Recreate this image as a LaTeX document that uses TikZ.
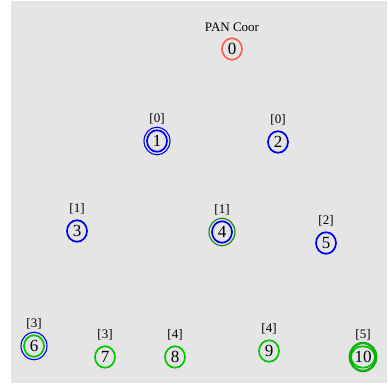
\documentclass[tikz,border=0pt]{standalone}
\usepackage{fontspec}
\setmainfont{Liberation Serif}
\usetikzlibrary{shapes.geometric}
\definecolor{coordred}{RGB}{250,100,80}
\definecolor{devblue}{RGB}{0,0,240}
\definecolor{devgreen}{RGB}{0,200,0}
\definecolor{darkgreen}{RGB}{20,130,20}
\definecolor{bggray}{RGB}{229,229,229}
\begin{document}
\begin{tikzpicture}[
      x=1pt, y=-1pt,
      dev/.style={ellipse, draw, line width=1.7pt, minimum width=20pt,
        minimum height=21.5pt, inner sep=0pt, font=\fontsize{17}{17}\selectfont},
      lvl/.style={inner sep=0pt, font=\fontsize{13}{13}\selectfont},
      ring/.style={line width=1.1pt},
    ]
    \useasboundingbox (0,0) rectangle (387,387);
    \fill[bggray] (11,1) rectangle (387,383);

    % devices: name/x/y/colour/level
    \foreach \i/\x/\y/\col/\lev in {0/232/49/coordred/{PAN Coor}, 1/157/141/devblue/{[0]},
        2/278/142/devblue/{[0]}, 3/77/231/devblue/{[1]}, 4/222/232/devblue/{[1]},
        5/326/243/devblue/{[2]}, 6/34/346/devgreen/{[3]}, 7/105/357/devgreen/{[3]},
        8/175/357/devgreen/{[4]}, 9/269/351/devgreen/{[4]}, 10/363/357/devgreen/{[5]}} {
      \node[dev, draw=\col] (n\i) at (\x,\y) {\i};
      \node[lvl] (l\i) at (\x,\y-22) {\lev};
    }

    % outer rings
    \draw[ring, devblue] (n1.center) ellipse [x radius=13pt, y radius=13.8pt];
    \draw[ring, darkgreen] (n4.center) ellipse [x radius=13pt, y radius=13.8pt];
    \draw[ring, devblue] (n6.center) ellipse [x radius=13pt, y radius=13.8pt];
    \draw[darkgreen, line width=0.5pt, double=devgreen, double distance=1.3pt]
      (n10.center) ellipse [x radius=13.2pt, y radius=14pt];
  \end{tikzpicture}
\end{document}
